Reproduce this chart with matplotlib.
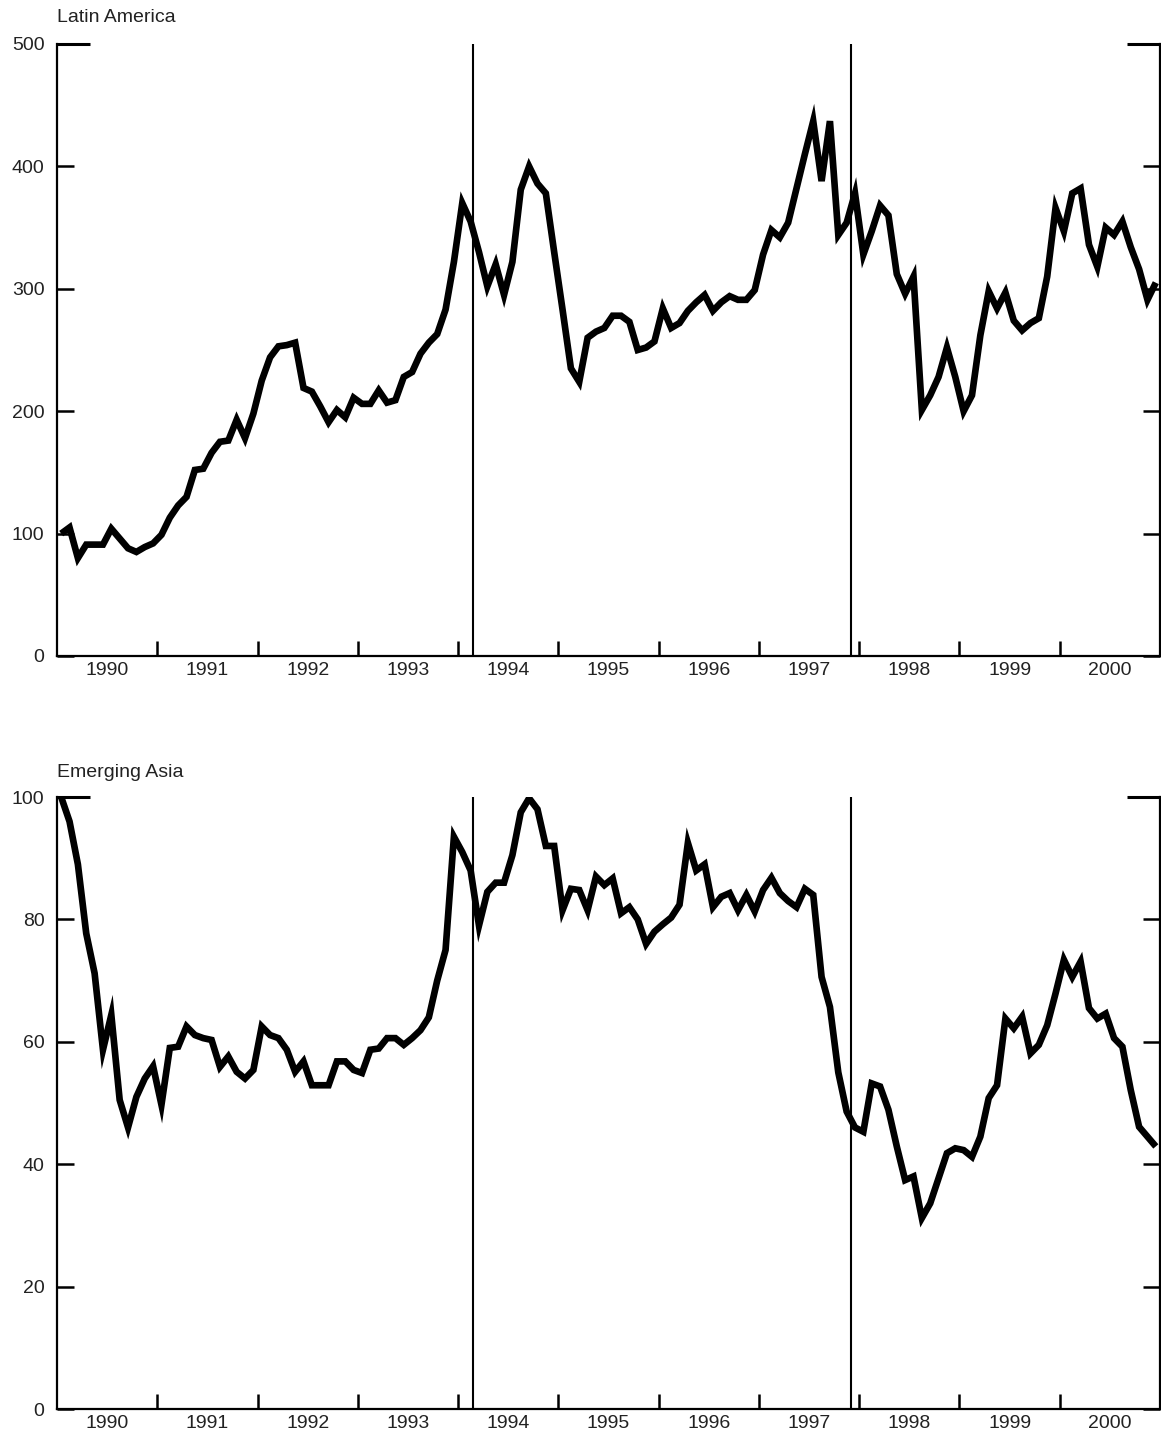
import matplotlib
matplotlib.use("Agg")
import matplotlib.pyplot as plt
import numpy as np

# Monthly index, Jan 1990 - Dec 2000
LATAM = [100, 105, 80, 91, 91, 91, 104, 96, 88, 85, 89, 92,
         99, 113, 123, 130, 152, 153, 166, 175, 176, 193, 178, 198,
         225, 244, 253, 254, 256, 219, 216, 204, 191, 201, 195, 211,
         206, 206, 217, 207, 209, 228, 232, 247, 256, 263, 283, 322,
         370, 355, 330, 302, 320, 295, 322, 381, 400, 386, 378, 330,
         283, 235, 224, 260, 265, 268, 278, 278, 273, 250, 252, 257,
         284, 268, 272, 282, 289, 295, 282, 289, 294, 291, 291, 299,
         328, 348, 342, 354, 382, 410, 437, 388, 437, 344, 354, 378,
         328, 347, 368, 360, 312, 296, 310, 201, 213, 228, 252, 228,
         200, 213, 262, 298, 284, 297, 274, 266, 272, 276, 310, 366,
         347, 378, 382, 336, 318, 350, 344, 355, 334, 316, 291, 305]
ASIA = [100, 96, 89, 77.7, 71.2, 58.7, 64.4, 50.5, 46, 51, 54, 56,
        49.7, 59, 59.2, 62.5, 61.1, 60.6, 60.3, 55.9, 57.6, 55.1, 54, 55.4,
        62.5, 61.1, 60.6, 58.7, 55.1, 56.8, 52.9, 52.9, 52.9, 56.8, 56.8, 55.4,
        54.9, 58.7, 58.9, 60.6, 60.6, 59.5, 60.6, 61.9, 64, 70, 75, 93.5,
        91, 88, 79, 84.5, 86, 86, 90.5, 97.5, 99.8, 98, 92, 92,
        81.5, 85, 84.8, 81.5, 87, 85.6, 86.7, 81, 82, 80, 76, 78,
        79.2, 80.3, 82.4, 92.5, 88, 89, 82, 83.7, 84.3, 81.5, 84, 81.3,
        84.8, 86.8, 84.3, 83, 82, 85, 84, 70.6, 65.7, 55, 48.6, 46,
        45.3, 53.2, 52.7, 48.9, 42.9, 37.4, 38, 31.2, 33.6, 37.7, 41.8, 42.6,
        42.3, 41.2, 44.5, 50.8, 52.9, 63.8, 62.2, 64.1, 58.1, 59.5, 62.7, 67.9,
        73.4, 70.6, 73.1, 65.5, 63.8, 64.6, 60.6, 59.2, 52.1, 46.1, 44.5, 42.9]
START_YEAR = 1990
YEARS = list(range(1990, 2001))
EVENT_LINES = [1994.15, 1997.92]

plt.rcParams['font.family'] = ['Liberation Sans', 'DejaVu Sans']
TXT = "#222222"

months = START_YEAR + (np.arange(len(LATAM)) + 0.5) / 12

fig = plt.figure(figsize=(11.61, 14.38), dpi=100)
W, H = 1161, 1438


def panel(rect, values, yticks, title, title_y):
    ax = fig.add_axes(rect)
    ax.plot(months, values, color="black", lw=4.8, solid_joinstyle="miter",
            solid_capstyle="butt")
    for xv in EVENT_LINES:
        ax.axvline(xv, color="black", lw=1.5)
    ax.set_xlim(YEARS[0], YEARS[-1] + 1)
    ax.set_ylim(yticks[0], yticks[-1])
    ax.spines["top"].set_visible(False)
    for s in ("left", "right", "bottom"):
        ax.spines[s].set_linewidth(1.6)
    # short corner pieces of the top frame
    for x0, x1 in ((0, 0.03), (0.97, 1.0)):
        ax.plot([x0, x1], [1, 1], transform=ax.transAxes, color="black",
                lw=2.2, clip_on=False, solid_capstyle="butt")
    ax.set_yticks(yticks)
    ax.set_yticklabels([str(v) for v in yticks])
    ax.tick_params(axis="y", which="major", direction="in", length=12,
                   width=1.8, left=True, right=True, labelsize=14,
                   labelcolor=TXT, pad=9)
    ax.set_xticks(YEARS[1:])
    ax.set_xticklabels([])
    ax.set_xticks([y + 0.5 for y in YEARS], minor=True)
    ax.set_xticklabels([str(y) for y in YEARS], minor=True)
    ax.tick_params(axis="x", which="major", direction="in", length=11,
                   width=1.8)
    ax.tick_params(axis="x", which="minor", length=0, labelsize=14,
                   labelcolor=TXT, pad=4)
    fig.text(57 / W, 1 - title_y / H, title, fontsize=14, color=TXT,
             ha="left", va="baseline")
    return ax


panel([57 / W, 1 - 656 / H, 1103 / W, 612 / H], LATAM,
      [0, 100, 200, 300, 400, 500], "Latin America", 21.7)
panel([57 / W, 1 - 1409 / H, 1103 / W, 612 / H], ASIA,
      [0, 20, 40, 60, 80, 100], "Emerging Asia", 776.7)

fig.savefig("out.png", dpi=100)
